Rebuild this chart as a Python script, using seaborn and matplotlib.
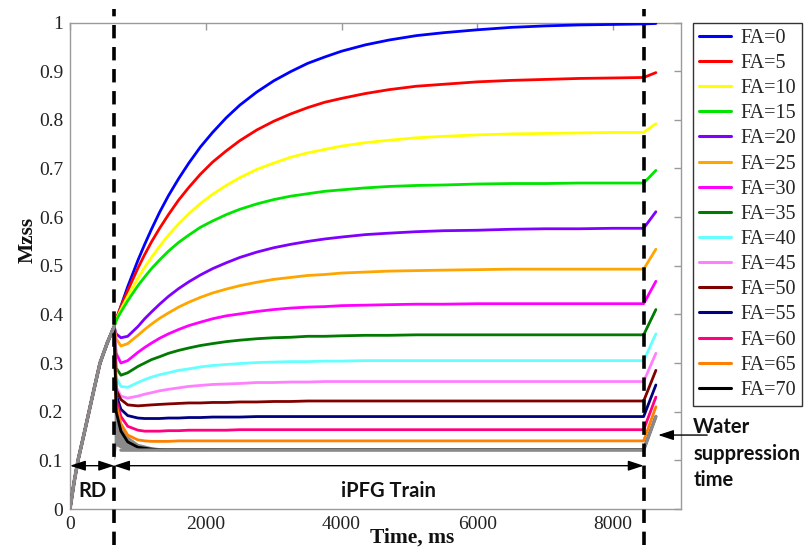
import matplotlib
matplotlib.use("Agg")
import matplotlib.pyplot as plt
import numpy as np
import pandas as pd
import seaborn as sns
from matplotlib.patches import ArrowStyle

sns.set_theme(style="white")
plt.rcParams["font.family"] = ["Liberation Serif", "DejaVu Serif"]

# ---------------- data ----------------
RD_END = 650        # end of relaxation delay, ms
WS_START = 8450     # start of water suppression, ms

rd_time = [0, 60, 118, 200, 280, 360, 442, 545, 650]
rd_mz = [0.0, 0.055, 0.1, 0.15, 0.2, 0.25, 0.3, 0.34, 0.375]

train_time = [680, 750, 850, 1000, 1100, 1200, 1320, 1450, 1600, 1750, 1920,
              2100, 2300, 2500, 2750, 3000, 3250, 3500, 3750, 4000, 4350, 4700,
              5100, 5500, 6000, 6500, 7000, 7500, 8000, 8450, 8630]

fa_labels = ["FA=0", "FA=5", "FA=10", "FA=15", "FA=20", "FA=25", "FA=30",
             "FA=35", "FA=40", "FA=45", "FA=50", "FA=55", "FA=60", "FA=65",
             "FA=70"]
fa_colors = ["#0000FF", "#FF0000", "#FFFF00", "#00E400", "#8000FF",
             "#FFA500", "#FF00FF", "#007A00", "#66FFFF", "#FF80FF",
             "#800000", "#000080", "#FF0080", "#FF8000", "#000000"]

mz_fa0 = [0.388, 0.417, 0.457, 0.511, 0.544, 0.575, 0.610, 0.644, 0.679, 0.711, 0.744,
          0.774, 0.804, 0.830, 0.857, 0.880, 0.899, 0.916, 0.929, 0.941, 0.954, 0.964,
          0.973, 0.979, 0.985, 0.990, 0.993, 0.995, 0.996, 0.997, 0.998]
mz_fa5 = [0.391, 0.416, 0.449, 0.495, 0.523, 0.549, 0.577, 0.605, 0.635, 0.661, 0.688,
          0.713, 0.736, 0.757, 0.779, 0.797, 0.812, 0.825, 0.836, 0.844, 0.854, 0.862,
          0.869, 0.873, 0.878, 0.881, 0.883, 0.885, 0.886, 0.887, 0.897]
mz_fa10 = [0.389, 0.410, 0.437, 0.474, 0.497, 0.517, 0.540, 0.563, 0.586, 0.607, 0.628,
           0.647, 0.665, 0.681, 0.698, 0.711, 0.723, 0.732, 0.739, 0.746, 0.753, 0.758,
           0.763, 0.766, 0.769, 0.771, 0.772, 0.773, 0.774, 0.774, 0.792]
mz_fa15 = [0.388, 0.405, 0.428, 0.459, 0.477, 0.494, 0.512, 0.530, 0.548, 0.563, 0.579,
           0.592, 0.605, 0.616, 0.627, 0.636, 0.643, 0.648, 0.653, 0.656, 0.660, 0.663,
           0.665, 0.666, 0.668, 0.669, 0.669, 0.670, 0.670, 0.670, 0.696]
mz_fa20 = [0.360, 0.352, 0.355, 0.375, 0.391, 0.405, 0.421, 0.437, 0.453, 0.467, 0.481,
           0.494, 0.506, 0.517, 0.528, 0.537, 0.544, 0.550, 0.555, 0.559, 0.564, 0.567,
           0.570, 0.572, 0.573, 0.575, 0.576, 0.576, 0.577, 0.577, 0.611]
mz_fa25 = [0.350, 0.335, 0.340, 0.357, 0.369, 0.380, 0.392, 0.403, 0.415, 0.425, 0.435,
           0.444, 0.452, 0.459, 0.466, 0.472, 0.476, 0.480, 0.482, 0.485, 0.487, 0.489,
           0.490, 0.491, 0.492, 0.493, 0.493, 0.493, 0.493, 0.493, 0.534]
mz_fa30 = [0.320, 0.300, 0.305, 0.322, 0.332, 0.341, 0.351, 0.360, 0.369, 0.377, 0.384,
           0.391, 0.397, 0.401, 0.406, 0.410, 0.413, 0.415, 0.416, 0.418, 0.419, 0.420,
           0.421, 0.421, 0.422, 0.422, 0.422, 0.422, 0.422, 0.422, 0.468]
mz_fa35 = [0.290, 0.275, 0.280, 0.293, 0.300, 0.307, 0.313, 0.320, 0.326, 0.331, 0.336,
           0.340, 0.344, 0.347, 0.350, 0.352, 0.353, 0.355, 0.355, 0.356, 0.357, 0.357,
           0.358, 0.358, 0.358, 0.358, 0.358, 0.358, 0.358, 0.358, 0.410]
mz_fa40 = [0.270, 0.252, 0.250, 0.260, 0.266, 0.271, 0.276, 0.280, 0.285, 0.288, 0.292,
           0.295, 0.297, 0.299, 0.301, 0.302, 0.303, 0.303, 0.304, 0.304, 0.305, 0.305,
           0.305, 0.305, 0.305, 0.305, 0.305, 0.305, 0.305, 0.305, 0.360]
mz_fa45 = [0.250, 0.232, 0.228, 0.232, 0.236, 0.239, 0.243, 0.246, 0.249, 0.252, 0.254,
           0.256, 0.257, 0.258, 0.260, 0.260, 0.261, 0.261, 0.262, 0.262, 0.262, 0.262,
           0.262, 0.262, 0.262, 0.262, 0.262, 0.262, 0.262, 0.262, 0.320]
mz_fa50 = [0.245, 0.225, 0.214, 0.212, 0.213, 0.214, 0.215, 0.216, 0.217, 0.218, 0.218,
           0.219, 0.219, 0.220, 0.220, 0.221, 0.221, 0.222, 0.222, 0.222, 0.222, 0.222,
           0.222, 0.222, 0.222, 0.222, 0.222, 0.222, 0.222, 0.222, 0.285]
mz_fa55 = [0.235, 0.205, 0.192, 0.187, 0.186, 0.186, 0.186, 0.187, 0.187, 0.188, 0.188,
           0.189, 0.189, 0.189, 0.190, 0.190, 0.190, 0.190, 0.190, 0.190, 0.190, 0.190,
           0.190, 0.190, 0.190, 0.190, 0.190, 0.190, 0.190, 0.190, 0.255]
mz_fa60 = [0.225, 0.190, 0.170, 0.162, 0.160, 0.160, 0.160, 0.161, 0.161, 0.162, 0.162,
           0.162, 0.162, 0.163, 0.163, 0.163, 0.163, 0.163, 0.163, 0.163, 0.163, 0.163,
           0.163, 0.163, 0.163, 0.163, 0.163, 0.163, 0.163, 0.163, 0.230]
mz_fa65 = [0.215, 0.175, 0.152, 0.142, 0.140, 0.139, 0.139, 0.139, 0.140, 0.140, 0.140,
           0.140, 0.140, 0.140, 0.140, 0.140, 0.140, 0.140, 0.140, 0.140, 0.140, 0.140,
           0.140, 0.140, 0.140, 0.140, 0.140, 0.140, 0.140, 0.140, 0.210]
mz_fa70 = [0.200, 0.160, 0.138, 0.127, 0.125, 0.123, 0.122, 0.122, 0.122, 0.122, 0.122,
           0.122, 0.122, 0.122, 0.122, 0.122, 0.122, 0.122, 0.122, 0.122, 0.122, 0.122,
           0.122, 0.122, 0.122, 0.122, 0.122, 0.122, 0.122, 0.122, 0.190]

all_mz = [mz_fa0, mz_fa5, mz_fa10, mz_fa15, mz_fa20, mz_fa25, mz_fa30, mz_fa35,
          mz_fa40, mz_fa45, mz_fa50, mz_fa55, mz_fa60, mz_fa65, mz_fa70]

# gray transient band and floor line
gray_time = [650, 660, 680, 750, 850, 1000, 1200, 1450, 1750, 2100]
gray_upper = [0.375, 0.300, 0.220, 0.175, 0.150, 0.135, 0.128, 0.124, 0.121, 0.120]
gray_lower = [0.100, 0.105, 0.130, 0.125, 0.120, 0.120, 0.120, 0.120, 0.120, 0.120]
gray_floor_time = [750, 8450, 8630]
gray_floor_mz = [0.121, 0.121, 0.190]

x_ticks = [0, 2000, 4000, 6000, 8000]
y_ticks = [0, 0.1, 0.2, 0.3, 0.4, 0.5, 0.6, 0.7, 0.8, 0.9, 1.0]
y_ticklabels = ["0", "0.1", "0.2", "0.3", "0.4", "0.5", "0.6", "0.7", "0.8", "0.9", "1"]

# ---------------- build table ----------------
rows = []
for lab, mz in zip(fa_labels, all_mz):
    for t, v in zip(rd_time + train_time, rd_mz + mz):
        rows.append((lab, t, v))
df = pd.DataFrame(rows, columns=["series", "time", "mz"])

# ---------------- figure ----------------
fig = plt.figure(figsize=(8.09, 5.48), dpi=100)
ax = fig.add_axes([70 / 809, 1 - 509 / 548, 611 / 809, 486.5 / 548])

GRAY = "#8a8a8a"
ax.fill_between(gray_time, gray_lower, gray_upper, color=GRAY, lw=0, zorder=2)

sns.lineplot(data=df, x="time", y="mz", hue="series", hue_order=fa_labels,
             palette=dict(zip(fa_labels, fa_colors)), estimator=None, sort=False,
             lw=2.0, ax=ax, legend="full", zorder=3)

sns.lineplot(x=rd_time, y=rd_mz, color=GRAY, lw=2.6, ax=ax, zorder=5,
             estimator=None, sort=False)
sns.lineplot(x=gray_floor_time, y=gray_floor_mz, color=GRAY, lw=2.4, ax=ax,
             zorder=4, estimator=None, sort=False)

ax.set_xlim(0, 9000)
ax.set_ylim(0, 1)
ax.set_xticks(x_ticks)
ax.set_xticklabels([str(v) for v in x_ticks])
ax.set_yticks(y_ticks)
ax.set_yticklabels(y_ticklabels)

for s in ax.spines.values():
    s.set_color("#9a9a9a")
    s.set_linewidth(1.0)
ax.tick_params(direction="in", length=5, width=1, color="#9a9a9a",
               top=True, right=True, labelsize=14, labelcolor="#222222", pad=5)

ax.set_xlabel("Time, ms", fontsize=15.5, fontweight="bold", color="#111111")
ax.xaxis.set_label_coords(0.56, -0.058)
ax.xaxis.label.set_va("center")
ax.set_ylabel("Mzss", fontsize=15.5, fontweight="bold", color="#111111")
ax.yaxis.set_label_coords(-0.070, 0.553)
ax.yaxis.label.set_va("center")

# dashed boundaries
for xv in (RD_END, WS_START):
    ax.plot([xv, xv], [-0.075, 1.028], color="black", lw=2.6,
            dashes=(3.7, 2.4), clip_on=False, zorder=6)

# double arrows
astyle = ArrowStyle("<|-|>", head_length=0.55, head_width=0.18)
for x0, x1 in ((0, RD_END), (RD_END, WS_START)):
    ax.annotate("", xy=(x0, 0.089), xytext=(x1, 0.089),
                arrowprops=dict(arrowstyle=astyle, color="black", lw=1.0,
                                mutation_scale=17, shrinkA=0, shrinkB=0),
                zorder=7)
ANN_FONT = ["Lato", "DejaVu Sans"]
ax.text(324, 0.037, "RD", ha="center", va="center", fontsize=14.5,
        fontweight="bold", family=ANN_FONT, color="#111111")
ax.text(4685, 0.037, "iPFG Train", ha="center", va="center", fontsize=14.5,
        fontweight="bold", family=ANN_FONT, color="#111111")

wstyle = ArrowStyle("-|>", head_length=0.55, head_width=0.18)
ax.annotate("", xy=(8663, 0.152), xytext=(9385, 0.152),
            arrowprops=dict(arrowstyle=wstyle, color="black", lw=1.0,
                            mutation_scale=17, shrinkA=0, shrinkB=0),
            annotation_clip=False)
for txt, yb in (("Water", 0.157), ("suppression", 0.101), ("time", 0.047)):
    ax.text(9179, yb, txt, ha="left", va="baseline", fontsize=14.5,
            fontweight="bold", family=ANN_FONT, color="#111111", clip_on=False)

# legend
h, l = ax.get_legend_handles_labels()
h, l = h[:len(fa_labels)], l[:len(fa_labels)]
leg = ax.legend(h, l, loc="upper left", bbox_to_anchor=(1.0196, 0.9994),
                borderaxespad=0, frameon=True, fancybox=False,
                edgecolor="black", fontsize=14.5, handlelength=1.6,
                labelspacing=0.3, borderpad=0.3, handletextpad=0.45)
leg.get_frame().set_linewidth(1.0)
for line in leg.get_lines():
    line.set_linewidth(2.2)

fig.savefig("out.png", dpi=100)
